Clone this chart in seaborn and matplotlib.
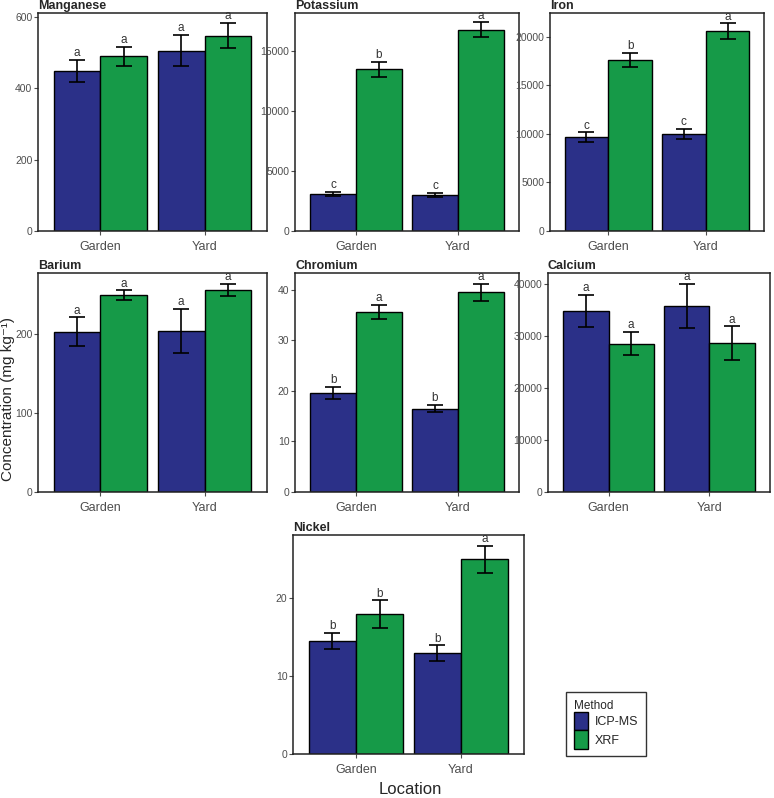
# plot.py
# Element concentrations by location and analytical method (ICP-MS vs XRF),
# one panel per element, bars = mean, error bars = SE, letters = groups.

import pandas as pd
import matplotlib.pyplot as plt
import seaborn as sns
from matplotlib.patches import Patch

# ------------ Data ------------
locations = ["Garden", "Yard"]
methods = ["ICP-MS", "XRF"]

mn_icp = [447, 505]
mn_icp_se = [31, 44]
mn_xrf = [489, 547]
mn_xrf_se = [27, 35]
mn_letters = [["a", "a"], ["a", "a"]]

k_icp = [3100, 3000]
k_icp_se = [150, 170]
k_xrf = [13480, 16780]
k_xrf_se = [620, 600]
k_letters = [["c", "c"], ["b", "a"]]

fe_icp = [9640, 10010]
fe_icp_se = [500, 500]
fe_xrf = [17600, 20580]
fe_xrf_se = [700, 800]
fe_letters = [["c", "c"], ["b", "a"]]

ba_icp = [203, 204]
ba_icp_se = [18, 28]
ba_xrf = [249, 256]
ba_xrf_se = [6, 7.5]
ba_letters = [["a", "a"], ["a", "a"]]

cr_icp = [19.6, 16.5]
cr_icp_se = [1.25, 0.75]
cr_xrf = [35.6, 39.45]
cr_xrf_se = [1.4, 1.65]
cr_letters = [["b", "b"], ["a", "a"]]

ca_icp = [34870, 35770]
ca_icp_se = [3080, 4250]
ca_xrf = [28520, 28650]
ca_xrf_se = [2250, 3200]
ca_letters = [["a", "a"], ["a", "a"]]

ni_icp = [14.5, 12.95]
ni_icp_se = [1.05, 1.0]
ni_xrf = [17.95, 24.96]
ni_xrf_se = [1.75, 1.75]
ni_letters = [["b", "b"], ["b", "a"]]

# ------------ Config ------------
ICP_COLOR = "#2b3088"
XRF_COLOR = "#169a48"
TICK_GRAY = "#4d4d4d"
W, H = 774, 798

sns.set_style("white")
plt.rcParams["font.family"] = ["Liberation Sans", "DejaVu Sans"]

# panel -> (title, icp, icp_se, xrf, xrf_se, letters, yticks, ytop, box px)
panels = [
    ("Manganese", mn_icp, mn_icp_se, mn_xrf, mn_xrf_se, mn_letters,
     [0, 200, 400, 600], 610, (38, 13, 267, 231)),
    ("Potassium", k_icp, k_icp_se, k_xrf, k_xrf_se, k_letters,
     [0, 5000, 10000, 15000], 18170, (295, 13, 519, 231)),
    ("Iron", fe_icp, fe_icp_se, fe_xrf, fe_xrf_se, fe_letters,
     [0, 5000, 10000, 15000, 20000], 22435, (550, 13, 764, 231)),
    ("Barium", ba_icp, ba_icp_se, ba_xrf, ba_xrf_se, ba_letters,
     [0, 100, 200], 277, (38, 273, 267, 492)),
    ("Chromium", cr_icp, cr_icp_se, cr_xrf, cr_xrf_se, cr_letters,
     [0, 10, 20, 30, 40], 43.3, (295, 273, 519, 492)),
    ("Calcium", ca_icp, ca_icp_se, ca_xrf, ca_xrf_se, ca_letters,
     [0, 10000, 20000, 30000, 40000], 42115, (548, 273, 770, 492)),
    ("Nickel", ni_icp, ni_icp_se, ni_xrf, ni_xrf_se, ni_letters,
     [0, 10, 20], 28.1, (293, 535, 524, 754)),
]

fig = plt.figure(figsize=(W / 100, H / 100), dpi=100)

for title, icp, icp_se, xrf, xrf_se, letters, yticks, ytop, box in panels:
    x0, y0, x1, y1 = box
    ax = fig.add_axes([x0 / W, 1 - y1 / H, (x1 - x0) / W, (y1 - y0) / H])

    df = pd.DataFrame({
        "Location": locations * 2,
        "Method": [methods[0]] * 2 + [methods[1]] * 2,
        "Concentration": icp + xrf,
    })
    sns.barplot(data=df, x="Location", y="Concentration", hue="Method",
                order=locations, hue_order=methods,
                palette=[ICP_COLOR, XRF_COLOR], saturation=1, width=0.9,
                edgecolor="black", linewidth=1.0, errorbar=None,
                legend=False, ax=ax)

    # custom error bars + significance letters
    for m, (means, ses, off) in enumerate([(icp, icp_se, -0.225),
                                           (xrf, xrf_se, 0.225)]):
        xs = [i + off for i in range(len(locations))]
        ax.errorbar(xs, means, yerr=ses, fmt="none", ecolor="black",
                    elinewidth=1.2, capsize=6, capthick=1.2, zorder=5)
        for i, (x, y, s) in enumerate(zip(xs, means, ses)):
            ax.annotate(letters[m][i], (x, y + s), xytext=(0, 0.5),
                        textcoords="offset points", ha="center",
                        va="bottom", fontsize=8.5, color="#333333")

    ax.set_xlim(-0.6, 1.6)
    ax.set_ylim(0, ytop)
    ax.set_yticks(yticks)
    ax.set_yticklabels([str(t) for t in yticks])
    ax.set_xlabel("")
    ax.set_ylabel("")
    ax.tick_params(axis="both", direction="out", length=3, width=0.8,
                   color=TICK_GRAY, labelcolor=TICK_GRAY, labelsize=7.5,
                   pad=1, left=True, bottom=True)
    ax.tick_params(axis="x", labelsize=9, pad=4)
    for sp in ax.spines.values():
        sp.set_visible(True)
        sp.set_color("#222222")
        sp.set_linewidth(1.1)
    ax.text(0.0, 1.005, title, transform=ax.transAxes, ha="left",
            va="bottom", fontsize=9, fontweight="bold")

# shared axis labels
fig.text(8 / W, 0.5, "Concentration (mg kg\u207b\u00b9)", rotation=90,
         ha="center", va="center", fontsize=11)
fig.text(410 / W, 1 - 790 / H, "Location", ha="center", va="center",
         fontsize=12)

# legend
handles = [Patch(facecolor=ICP_COLOR, edgecolor="black", label="ICP-MS"),
           Patch(facecolor=XRF_COLOR, edgecolor="black", label="XRF")]
leg = fig.legend(handles=handles, title="Method", loc="upper left",
                 bbox_to_anchor=(560 / W, 1 - 686 / H), frameon=True,
                 fancybox=False, fontsize=9, title_fontsize=8.5,
                 handlelength=1.1, handleheight=1.9, labelspacing=0,
                 handletextpad=0.6, borderpad=0.6)
leg.get_frame().set_edgecolor("black")
leg.get_frame().set_linewidth(1.0)
leg._legend_box.align = "left"

fig.savefig("out.png", dpi=100)
